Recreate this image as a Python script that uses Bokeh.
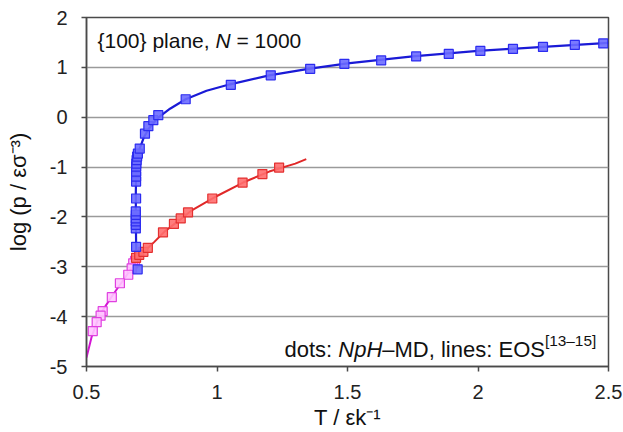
import math
from bokeh.plotting import figure
from bokeh.models import Label, FixedTicker, Range1d
from bokeh.embed import file_html
from bokeh.resources import INLINE

# ---------------- data ----------------
x_ticks = [0.5, 1.0, 1.5, 2.0, 2.5]
x_tick_labels = ["0.5", "1", "1.5", "2", "2.5"]
y_ticks = [-5, -4, -3, -2, -1, 0, 1, 2]
y_tick_labels = ["-5", "-4", "-3", "-2", "-1", "0", "1", "2"]
x_title = "T / \u03b5k\u207b\u00b9"
y_title = "log (p / \u03b5\u03c3\u207b\u00b3)"

# NpH-MD points (blue: solid-fluid branch)
blue_T = [0.696, 0.690, 0.689, 0.689, 0.689, 0.689, 0.689, 0.689, 0.690, 0.690,
          0.690, 0.690, 0.690, 0.691, 0.692, 0.694, 0.697, 0.704, 0.724, 0.737,
          0.756, 0.775, 0.880, 1.053, 1.206, 1.357, 1.488, 1.629, 1.763, 1.888,
          2.009, 2.134, 2.249, 2.371, 2.480]
blue_logp = [-3.05, -2.60, -2.23, -2.16, -2.09, -2.03, -1.96, -1.89, -1.63, -1.29,
             -1.19, -1.09, -0.99, -0.93, -0.86, -0.79, -0.73, -0.63, -0.33, -0.18,
             -0.06, 0.04, 0.36, 0.65, 0.84, 0.97, 1.07, 1.14, 1.22, 1.27,
             1.33, 1.37, 1.41, 1.45, 1.48]
# red: liquid-vapour branch
red_T = [0.690, 0.702, 0.718, 0.735, 0.793, 0.835, 0.861, 0.889, 0.982, 1.098, 1.174, 1.238]
red_logp = [-2.82, -2.76, -2.70, -2.62, -2.31, -2.14, -2.03, -1.91, -1.63, -1.31, -1.14, -1.01]
# magenta: solid-vapour branch
mag_T = [0.686, 0.679, 0.673, 0.660, 0.628, 0.597, 0.562, 0.554, 0.539, 0.524]
mag_logp = [-2.88, -2.93, -3.03, -3.16, -3.33, -3.61, -3.89, -3.98, -4.11, -4.29]

# EOS lines
blue_eos_T = [0.692, 0.690, 0.689, 0.689, 0.690, 0.692, 0.696, 0.704, 0.720, 0.740, 0.770,
              0.820, 0.880, 0.960, 1.050, 1.200, 1.350, 1.500, 1.750, 2.000, 2.250, 2.500]
blue_eos_logp = [-2.95, -2.50, -2.00, -1.50, -1.20, -0.95, -0.80, -0.63, -0.40, -0.22, -0.03,
                 0.17, 0.36, 0.53, 0.66, 0.84, 0.97, 1.08, 1.22, 1.33, 1.41, 1.49]
red_eos_T = [0.690, 0.720, 0.760, 0.800, 0.850, 0.900, 1.000, 1.100, 1.200, 1.300, 1.342]
red_eos_logp = [-2.86, -2.70, -2.50, -2.29, -2.09, -1.88, -1.58, -1.31, -1.09, -0.93, -0.84]
mag_eos_T = [0.500, 0.520, 0.550, 0.600, 0.650, 0.690]
mag_eos_logp = [-4.82, -4.40, -3.97, -3.57, -3.20, -2.88]

# ---------------- figure ----------------
W, H = 623, 432
LEFT, RIGHT, TOP, BOTTOM = 86, 15, 17, 65
X0, X1, Y0, Y1 = 0.5, 2.5, -5.0, 2.0
FW = W - LEFT - RIGHT
FH = H - TOP - BOTTOM

p = figure(width=W, height=H, output_backend="svg", toolbar_location=None,
           x_range=Range1d(X0, X1), y_range=Range1d(Y0, Y1),
           min_border_left=LEFT, min_border_right=RIGHT,
           min_border_top=TOP, min_border_bottom=BOTTOM)
p.background_fill_color = "white"
p.border_fill_color = "white"
p.outline_line_color = "#4a4a4a"
p.outline_line_width = 1.5

p.xgrid.grid_line_color = None
p.ygrid.grid_line_color = "#9a9a9a"
p.ygrid.grid_line_width = 1.3
p.ygrid.ticker = FixedTicker(ticks=y_ticks)

FONT = "Liberation Sans"
for ax in (p.xaxis[0], p.yaxis[0]):
    ax.axis_line_color = "#4a4a4a"
    ax.axis_line_width = 1.5
    ax.major_tick_line_color = "#4a4a4a"
    ax.major_tick_line_width = 1.5
    ax.major_tick_in = 0
    ax.major_tick_out = 5
    ax.minor_tick_line_color = None
    ax.major_label_text_font = FONT
    ax.major_label_text_font_size = "20px"
    ax.major_label_text_color = "#222222"
    ax.axis_label_text_font = FONT
    ax.axis_label_text_font_style = "normal"
    ax.axis_label_text_color = "#111111"

p.xaxis.ticker = FixedTicker(ticks=x_ticks)
p.xaxis.major_label_overrides = {t: s for t, s in zip(x_ticks, x_tick_labels)}
p.xaxis.major_label_standoff = 13
p.xaxis.axis_label = x_title
p.xaxis.axis_label_text_font_size = "22px"
p.xaxis.axis_label_standoff = 3

p.yaxis.ticker = FixedTicker(ticks=y_ticks)
p.yaxis.major_label_overrides = {t: s for t, s in zip(y_ticks, y_tick_labels)}
p.yaxis.major_label_standoff = 14
p.yaxis.axis_label = y_title
p.yaxis.axis_label_text_font_size = "22px"
p.yaxis.axis_label_standoff = 16

# ---------------- lines (EOS) ----------------
p.line(mag_eos_T, mag_eos_logp, line_color="#d414d4", line_width=2)
p.line(red_eos_T, red_eos_logp, line_color="#e02828", line_width=2)
p.line(blue_eos_T, blue_eos_logp, line_color="#1a1ad6", line_width=2.2)

# ---------------- points (MD) ----------------
p.scatter(mag_T, mag_logp, marker="square", size=9,
          fill_color="#ffc4ff", fill_alpha=0.9, line_color="#e040e0", line_width=1.2)
p.scatter(red_T, red_logp, marker="square", size=9,
          fill_color="#ff6e6e", fill_alpha=0.9, line_color="#e43030", line_width=1.2)
p.scatter(blue_T, blue_logp, marker="square", size=9,
          fill_color="#6c6cff", fill_alpha=0.9, line_color="#2c2cf0", line_width=1.2)


# ---------------- text helpers ----------------
def dx(px):
    return X0 + (px - LEFT) * (X1 - X0) / FW


def dy(py):
    return Y1 - (py - TOP) * (Y1 - Y0) / FH


def add_run(pieces, x_px, base_py, size):
    """pieces: (text, italic, em_width, scale, raise_px)"""
    cur = x_px
    for txt, ital, em, sc, rise in pieces:
        fs = size * sc
        p.add_layout(Label(x=dx(cur), y=dy(base_py - rise), text=txt,
                           text_font=FONT, text_font_size=f"{fs:.1f}px",
                           text_font_style="italic" if ital else "normal",
                           text_color="#111111", text_align="left",
                           text_baseline="alphabetic"))
        cur += em * fs


NB = "\u00a0"
# title inside the plot
add_run([("{100} plane," + NB, False, 5.616, 1.0, 0),
         ("N", True, 0.722, 1.0, 0),
         (NB + "=" + NB + "1000", False, 3.364, 1.0, 0)], 97, 40, 21)

# note at bottom right
add_run([("dots:" + NB, False, 2.446, 1.0, 0),
         ("NpH", True, 2.0, 1.0, 0),
         ("\u2013MD, lines: EOS", False, 7.391, 1.0, 0),
         ("[13\u201315]", False, 3.336, 0.7, 9)], 284, 350, 22)

open("out.html", "w").write(file_html(p, INLINE))
